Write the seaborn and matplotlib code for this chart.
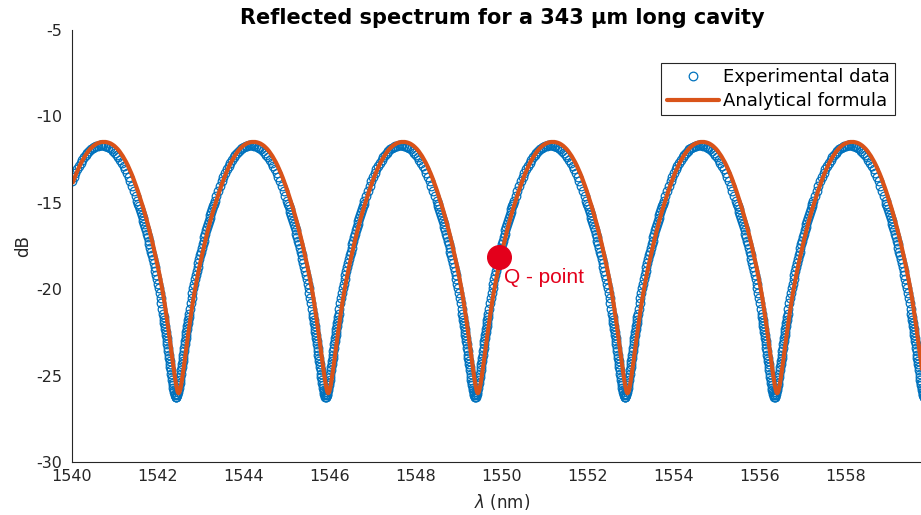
import numpy as np
import pandas as pd
import matplotlib
matplotlib.use("Agg")
import matplotlib.pyplot as plt
import seaborn as sns

# ---------------- data ----------------
# wavelength of each fringe minimum (nm)
minima_analytical_nm = [1539.00, 1542.48, 1545.96, 1549.44, 1552.92, 1556.40, 1559.88]
minima_experimental_nm = [1538.94, 1542.42, 1545.90, 1549.38, 1552.86, 1556.34, 1559.82]

# offset from a fringe minimum (nm) at which the curves were read
profile_offset_nm = [
    0.00, 0.01, 0.02, 0.03, 0.04, 0.05, 0.06, 0.07, 0.08, 0.09, 0.10,
    0.11, 0.12, 0.13, 0.14, 0.15, 0.16, 0.17, 0.18, 0.19, 0.20,
    0.21, 0.22, 0.23, 0.24, 0.25, 0.26, 0.27, 0.28, 0.29, 0.30,
    0.32, 0.34, 0.36, 0.38, 0.40, 0.42, 0.44, 0.46, 0.48, 0.50,
    0.52, 0.54, 0.56, 0.58, 0.60, 0.62, 0.64, 0.66, 0.68, 0.70,
    0.72, 0.74, 0.76, 0.78, 0.80, 0.82, 0.84, 0.86, 0.88, 0.90,
    0.94, 0.98, 1.02, 1.06, 1.10, 1.14, 1.18, 1.22, 1.26, 1.30,
    1.34, 1.38, 1.42, 1.46, 1.50, 1.54, 1.58, 1.62, 1.66, 1.70, 1.74,
]

# analytical formula curve (dB) at those offsets
analytical_db = [
    -26.02, -26.00, -25.95, -25.87, -25.77, -25.65, -25.51, -25.36, -25.20, -25.03, -24.86,
    -24.68, -24.50, -24.33, -24.15, -23.97, -23.79, -23.60, -23.40, -23.20, -23.00,
    -22.82, -22.64, -22.46, -22.28, -22.10, -21.93, -21.76, -21.59, -21.42, -21.25,
    -20.92, -20.60, -20.30, -20.02, -19.75, -19.49, -19.23, -18.98, -18.74, -18.50,
    -18.28, -18.06, -17.84, -17.62, -17.40, -17.20, -16.99, -16.79, -16.59, -16.40,
    -16.21, -16.03, -15.85, -15.67, -15.50, -15.33, -15.17, -15.01, -14.85, -14.70,
    -14.39, -14.10, -13.82, -13.55, -13.30, -13.07, -12.85, -12.65, -12.47, -12.30,
    -12.15, -12.01, -11.89, -11.79, -11.70, -11.63, -11.57, -11.53, -11.50, -11.48, -11.48,
]

# experimental data (dB) at those offsets
experimental_db = [
    -26.25, -26.22, -26.15, -26.07, -25.97, -25.85, -25.71, -25.56, -25.40, -25.23, -25.06,
    -24.88, -24.70, -24.53, -24.35, -24.17, -23.99, -23.80, -23.60, -23.40, -23.20,
    -23.02, -22.84, -22.66, -22.48, -22.30, -22.13, -21.96, -21.79, -21.62, -21.45,
    -21.12, -20.80, -20.50, -20.22, -19.95, -19.69, -19.43, -19.18, -18.94, -18.70,
    -18.48, -18.26, -18.04, -17.82, -17.60, -17.40, -17.19, -16.99, -16.79, -16.60,
    -16.41, -16.23, -16.05, -15.87, -15.70, -15.53, -15.37, -15.21, -15.05, -14.90,
    -14.59, -14.30, -14.02, -13.75, -13.50, -13.27, -13.05, -12.85, -12.67, -12.50,
    -12.35, -12.21, -12.09, -11.99, -11.90, -11.83, -11.77, -11.73, -11.70, -11.68, -11.68,
]

q_point_nm = 1549.92
q_point_db = -18.12
q_label = "Q - point"

x_ticks = [1540, 1542, 1544, 1546, 1548, 1550, 1552, 1554, 1556, 1558]
y_ticks = [-30, -25, -20, -15, -10, -5]

title = "Reflected spectrum for a 343 μm long cavity"


def build_series(minima, offsets, values):
    rows = []
    for m in minima:
        for off, v in zip(offsets, values):
            rows.append((m - off, v))
            if off > 0:
                rows.append((m + off, v))
    df = pd.DataFrame(rows, columns=["wl", "db"])
    df = df[(df.wl >= 1540.0) & (df.wl <= 1560.0)]
    return df.sort_values("wl").reset_index(drop=True)


df_exp = build_series(minima_experimental_nm, profile_offset_nm, experimental_db)
df_ana = build_series(minima_analytical_nm, profile_offset_nm, analytical_db)

# ---------------- styling ----------------
sns.set_theme(style="white")
plt.rcParams["font.family"] = ["DejaVu Sans"]
plt.rcParams["mathtext.fontset"] = "dejavusans"

blue = "#0072BD"
orange = "#D95319"
red = "#E3001B"
axis_col = "#262626"

fig = plt.figure(figsize=(9.21, 5.15), dpi=100)
W, H = 921, 515
ax = fig.add_axes([72 / W, 1 - 462 / H, 860 / W, 432 / H])
ax.set_facecolor("white")

sns.lineplot(data=df_exp, x="wl", y="db", ax=ax, estimator=None, sort=False,
             linestyle="", marker="o", markersize=6.2, markerfacecolor="none",
             markeredgecolor=blue, markeredgewidth=0.9, color=blue,
             label="Experimental data")
sns.lineplot(data=df_ana, x="wl", y="db", ax=ax, estimator=None, sort=False,
             color=orange, linewidth=3.0, label="Analytical formula")

ax.plot([q_point_nm], [q_point_db], marker="o", markersize=17, color=red,
        markeredgecolor=red, linestyle="", zorder=5)
ax.text(q_point_nm + 0.12, q_point_db - 1.2, q_label, color=red,
        fontsize=15, family=["Liberation Sans", "DejaVu Sans"],
        ha="left", va="center", zorder=6)

ax.set_xlim(1540, 1560)
ax.set_ylim(-30, -5)
ax.set_xticks(x_ticks)
ax.set_yticks(y_ticks)
ax.set_xticklabels([str(t) for t in x_ticks])
ax.set_yticklabels([str(t) for t in y_ticks])

for s in ["top", "right"]:
    ax.spines[s].set_visible(False)
for s in ["left", "bottom"]:
    ax.spines[s].set_color(axis_col)
    ax.spines[s].set_linewidth(0.8)
ax.tick_params(axis="both", direction="in", length=5, width=0.8,
               colors=axis_col, labelsize=11.5, pad=7)
ax.tick_params(axis="x", pad=5)

ax.set_xlabel(r"$\lambda$ (nm)", fontsize=12, color=axis_col, labelpad=6)
ax.set_ylabel("dB", fontsize=12, color=axis_col, labelpad=3)
ax.set_title(title, fontsize=15, fontweight="bold", color="black", pad=4)

leg = ax.legend(loc="upper right", bbox_to_anchor=(895 / W, 1 - 63 / H),
                bbox_transform=fig.transFigure, fontsize=13, frameon=True,
                fancybox=False, framealpha=1, edgecolor=axis_col,
                handlelength=2.9, handletextpad=0.2, borderpad=0.3,
                labelspacing=0.3, borderaxespad=0)
leg.get_frame().set_linewidth(0.8)
for t in leg.get_texts():
    t.set_color("black")

fig.savefig("out.png", dpi=100)
